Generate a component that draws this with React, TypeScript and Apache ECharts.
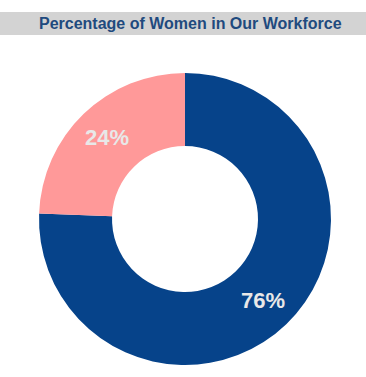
import React, { useEffect, useRef } from "react";
import * as echarts from "echarts";

const categories = ["Men", "Women"];
const values = [75.6, 24.4];
const colors = ["#06438A", "#FF9999"];
const titleText = "Percentage of Women in Our Workforce";

export default function App() {
  const ref = useRef<HTMLDivElement>(null);
  useEffect(() => {
    if (!ref.current) return;
    const chart = echarts.init(ref.current, undefined, { renderer: "svg" });
    chart.setOption({
      animation: false,
      graphic: [
        {
          type: "rect",
          shape: { x: 0, y: 12, width: 366, height: 23 },
          style: { fill: "#D3D3D3" },
          z: 0,
        },
      ],
      title: {
        text: titleText,
        left: 39,
        top: 13,
        padding: 0,
        textStyle: {
          fontFamily: "Liberation Sans, Arial, sans-serif",
          fontWeight: "bold",
          fontSize: 16,
          color: "#1F4A7E",
          lineHeight: 20,
        },
        z: 5,
      },
      series: [
        {
          type: "pie",
          center: [185, 219],
          radius: [73, 146],
          startAngle: 90,
          clockwise: true,
          percentPrecision: 0,
          label: {
            show: true,
            position: "inside",
            formatter: "{d}%",
            fontFamily: "Liberation Sans, Arial, sans-serif",
            fontWeight: "bold",
            fontSize: 22,
            color: "#E8E8E8",
          },
          labelLine: { show: false },
          emphasis: { disabled: true },
          itemStyle: { borderWidth: 0 },
          data: categories.map((name, i) => ({
            name,
            value: values[i],
            itemStyle: { color: colors[i] },
          })),
        },
      ],
    });
    return () => chart.dispose();
  }, []);
  return (
    <div
      ref={ref}
      style={{ position: "fixed", left: 0, top: 0, width: 366, height: 377, background: "#fff" }}
    />
  );
}
